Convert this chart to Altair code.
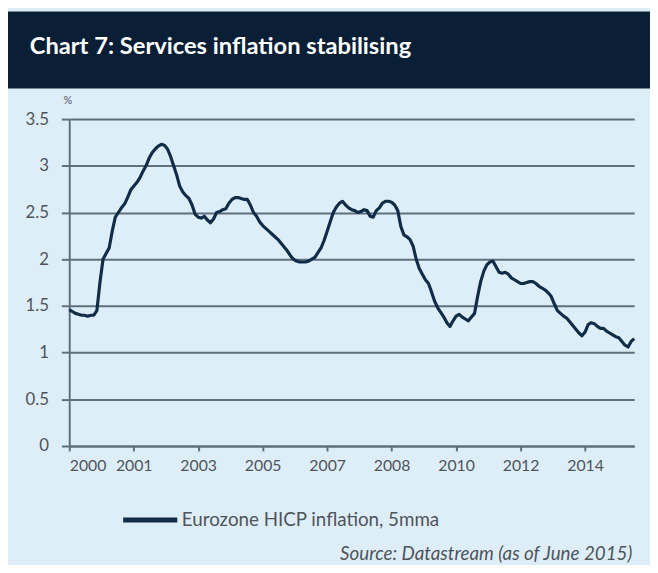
import altair as alt
import pandas as pd

# Monthly Eurozone services HICP inflation (5mma), Jan 2000 .. May 2015
values = [
    1.46, 1.44, 1.42, 1.41, 1.40, 1.40, 1.39, 1.40, 1.40, 1.45,
    1.75, 2.00, 2.06, 2.12, 2.30, 2.45, 2.50, 2.55, 2.59, 2.66,
    2.74, 2.78, 2.82, 2.87, 2.94, 3.00, 3.08, 3.14, 3.18, 3.21,
    3.23, 3.22, 3.18, 3.10, 3.00, 2.90, 2.78, 2.72, 2.68, 2.65,
    2.58, 2.48, 2.45, 2.44, 2.46, 2.42, 2.39, 2.43, 2.50, 2.51,
    2.53, 2.54, 2.60, 2.64, 2.66, 2.66, 2.65, 2.64, 2.64, 2.58,
    2.50, 2.46, 2.40, 2.36, 2.33, 2.30, 2.27, 2.24, 2.21, 2.17,
    2.13, 2.09, 2.04, 2.00, 1.98, 1.97, 1.97, 1.97, 1.98, 2.00,
    2.02, 2.07, 2.12, 2.20, 2.30, 2.40, 2.50, 2.56, 2.60, 2.62,
    2.58, 2.55, 2.53, 2.52, 2.50, 2.51, 2.53, 2.52, 2.46, 2.45,
    2.52, 2.55, 2.60, 2.62, 2.62, 2.61, 2.58, 2.52, 2.35, 2.26,
    2.24, 2.21, 2.14, 2.00, 1.90, 1.84, 1.78, 1.74, 1.65, 1.55,
    1.48, 1.43, 1.38, 1.32, 1.28, 1.34, 1.39, 1.41, 1.38, 1.36,
    1.34, 1.38, 1.42, 1.60, 1.76, 1.87, 1.94, 1.97, 1.98, 1.92,
    1.86, 1.85, 1.86, 1.84, 1.80, 1.78, 1.76, 1.74, 1.74, 1.75,
    1.76, 1.76, 1.74, 1.71, 1.69, 1.67, 1.64, 1.60, 1.52, 1.45,
    1.42, 1.39, 1.37, 1.33, 1.29, 1.25, 1.21, 1.18, 1.22, 1.30,
    1.32, 1.31, 1.28, 1.26, 1.26, 1.23, 1.21, 1.19, 1.17, 1.16,
    1.12, 1.08, 1.06, 1.12, 1.15,
]
month_index = list(range(len(values)))

tick_step = 21
tick_positions = [0, 21, 42, 63, 84, 105, 126, 147, 168]
tick_labels = ["2000", "2001", "2003", "2005", "2007", "2008", "2010", "2012", "2014"]
y_ticks = [0, 0.5, 1, 1.5, 2, 2.5, 3, 3.5]

series_name = "Eurozone HICP inflation, 5mma"
title_text = "Chart 7: Services inflation stabilising"
source_text = "Source: Datastream (as of June 2015)"

NAVY = "#0a1f36"
LINE = "#102c47"
BG = "#deeef9"
GRID = "#5f6f7d"
TEXT = "#4e545a"
FONT = "Lato"

df = pd.DataFrame({"m": month_index, "v": values, "series": series_name})

W, H = 572, 331
PAD = {"left": 62, "top": 109, "right": 16, "bottom": 117}

label_expr = "[" + ",".join(f"'{t}'" for t in tick_labels) + f"][round(datum.value / {tick_step})]"

band = alt.Chart(alt.Data(values=[{}])).mark_rect(color=NAVY).encode(
    x=alt.value(-62), x2=alt.value(W + 16),
    y=alt.value(-109), y2=alt.value(-31),
)

title = alt.Chart(alt.Data(values=[{}])).mark_text(
    text=title_text, font=FONT, fontWeight="bold", fontSize=24,
    color="white", align="left", baseline="middle",
).encode(x=alt.value(-40), y=alt.value(-73))

line = alt.Chart(df).mark_line(strokeWidth=3.2, strokeJoin="round").encode(
    x=alt.X("m:Q", scale=alt.Scale(domain=[0, len(values) - 1], nice=False, zero=False),
            axis=alt.Axis(values=tick_positions, labelExpr=label_expr, title=None,
                          grid=False, tickSize=5, labelPadding=7, domainWidth=2,
                          domainColor=GRID, tickColor=GRID, tickWidth=2)),
    y=alt.Y("v:Q", scale=alt.Scale(domain=[0, 3.5], nice=False),
            axis=alt.Axis(values=y_ticks, format=".1~f", title="%", titleAngle=0,
                          titleX=-2, titleY=-14, titleFontSize=11, titleFontWeight="normal",
                          titleColor=TEXT, titleAlign="center",
                          grid=True, gridColor=GRID, gridWidth=2, tickSize=8, tickWidth=2,
                          tickColor=GRID, domainColor=GRID, domainWidth=2, labelPadding=13,
                          labelFontSize=17)),
    color=alt.Color("series:N", scale=alt.Scale(range=[LINE]),
                    legend=alt.Legend(title=None, orient="none", legendX=52, legendY=376,
                                      symbolType="stroke", symbolSize=3000,
                                      symbolStrokeWidth=5, labelFontSize=19, labelLimit=0,
                                      labelFont=FONT, labelColor=TEXT, labelOffset=2)),
)

source = alt.Chart(alt.Data(values=[{}])).mark_text(
    text=source_text, font=FONT, fontStyle="italic", fontSize=19,
    color=TEXT, align="right", baseline="middle",
).encode(x=alt.value(570), y=alt.value(440))

chart = alt.layer(band, title, line, source).properties(
    width=W, height=H,
    autosize=alt.AutoSizeParams(type="none"),
    padding=PAD,
    background=BG,
).configure_view(stroke=None).configure_axis(
    labelFont=FONT, labelFontSize=16, labelColor=TEXT, titleFont=FONT,
)

chart.save("out.html", embed_options={"renderer": "svg", "actions": False})
